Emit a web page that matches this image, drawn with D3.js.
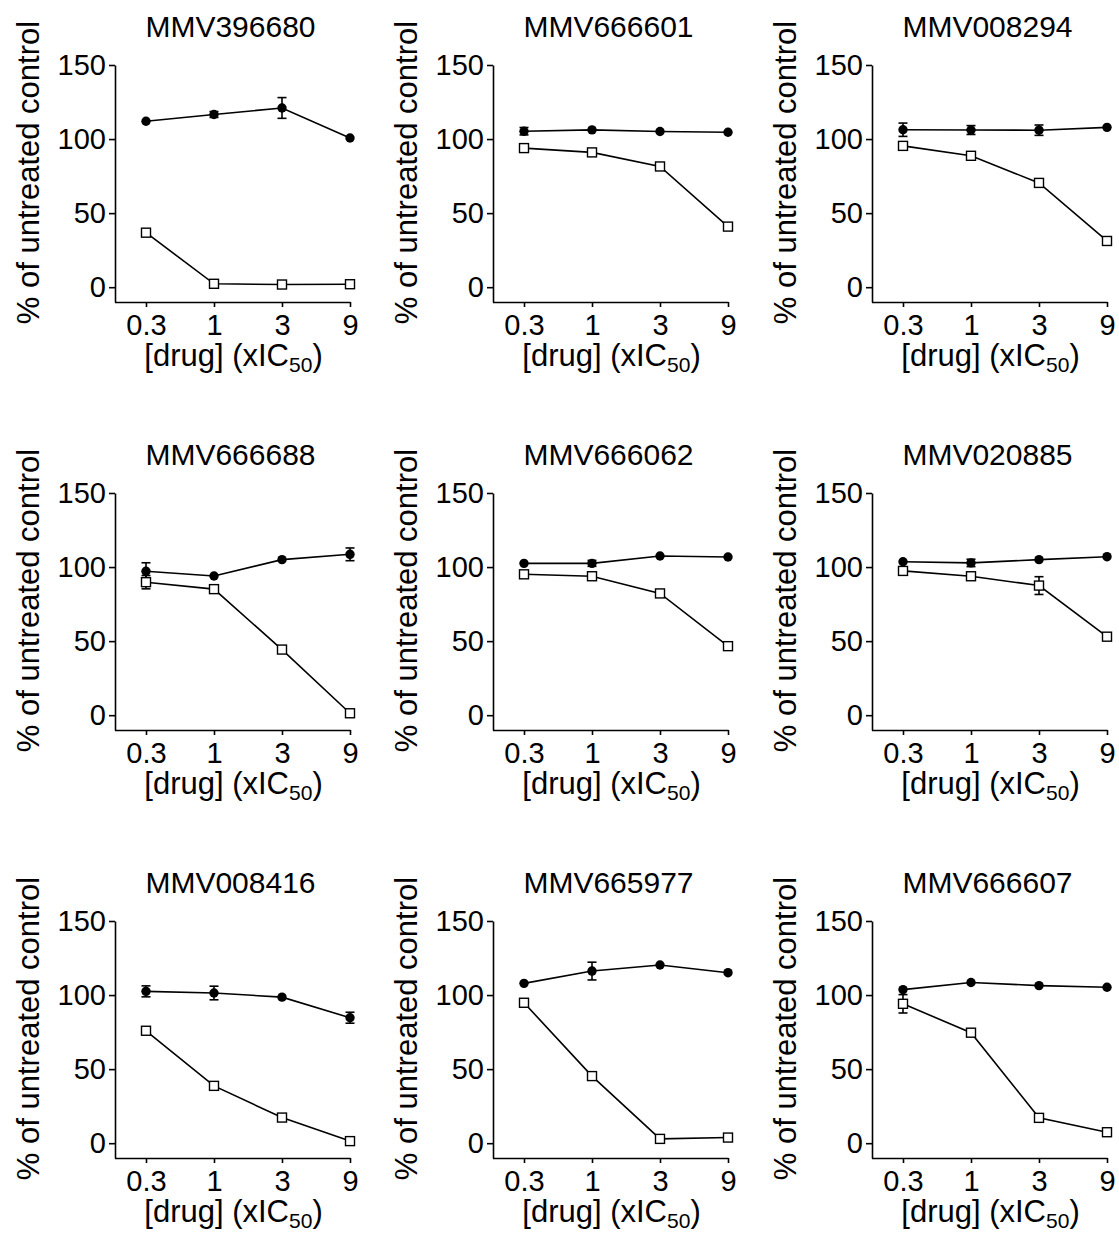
<!DOCTYPE html>
<html>
<head>
<meta charset="utf-8">
<script src="https://cdn.jsdelivr.net/npm/d3@7"></script>
<style>
  body { margin: 0; background: #fff; }
  svg { display: block; font-family: "Liberation Sans", Arial, sans-serif; }
</style>
</head>
<body>
<div id="chart"></div>
<script>
const WIDTH = 1119;
const HEIGHT = 1238;

// dose levels (x IC50), equally spaced on the axis
const doses = ["0.3", "1", "3", "9"];
const yTicks = [0, 50, 100, 150];

const compounds = [
  "MMV396680", "MMV666601", "MMV008294",
  "MMV666688", "MMV666062", "MMV020885",
  "MMV008416", "MMV665977", "MMV666607"
];

// filled circles: mean and error (0 = bar hidden behind the marker)
const filledMean = [
  [112, 116.6, 121, 100.7],
  [105.3, 106.2, 105.1, 104.6],
  [106.3, 106.1, 106, 107.9],
  [97.2, 94, 105, 108.6],
  [102.5, 102.5, 107.5, 106.8],
  [103.6, 102.8, 105, 107],
  [102.5, 101.4, 98.6, 84.7],
  [107.9, 116.2, 120.3, 115.1],
  [103.7, 108.5, 106.4, 105.3]
];
const filledErr = [
  [0, 2, 7, 0],
  [2.5, 0, 0, 0],
  [4.5, 3, 3.5, 0],
  [5.7, 0, 0, 4.3],
  [0, 2, 0, 0],
  [0, 2.5, 0, 0],
  [3.7, 4.6, 0, 3.7],
  [0, 6, 0, 0],
  [0, 0, 0, 0]
];

// open squares
const openMean = [
  [36.8, 2.3, 1.8, 2],
  [93.9, 91, 81.5, 40.9],
  [95.4, 88.7, 70.4, 31.2],
  [89.8, 85.1, 44.3, 1.3],
  [95.1, 93.8, 82.2, 46.6],
  [97.4, 93.8, 87.5, 53],
  [75.9, 38.7, 17.3, 1.4],
  [94.8, 45.3, 2.9, 3.8],
  [94.1, 74.6, 17.1, 7.4]
];
const openErr = [
  [0, 0, 0, 0],
  [0, 0, 0, 0],
  [0, 0, 0, 0],
  [4.5, 0, 0, 0],
  [0, 0, 0, 0],
  [0, 0, 6, 0],
  [0, 0, 0, 0],
  [0, 0, 0, 0],
  [6.2, 2.5, 0, 0]
];

// panel layout
const COL_X = [115, 493, 872];   // y-axis position of each column
const ROW_Y = [65, 493, 921];    // y of the 150 tick in each row
const PLOT_W = 235;
const FIRST_X = 31;
const PLOT_H = 237;              // from 150 down to the x axis line
const FONT = 29;

const svg = d3.select("#chart")
  .append("svg")
  .attr("width", WIDTH)
  .attr("height", HEIGHT);

const x = d3.scalePoint().domain(doses).range([FIRST_X, PLOT_W]);
const y = d3.scaleLinear().domain([-10, 150]).range([PLOT_H, 0]);

const line = d3.line()
  .x((d, i) => x(doses[i]))
  .y(d => y(d));

compounds.forEach((name, k) => {
  const g = svg.append("g")
    .attr("transform", `translate(${COL_X[k % 3]}, ${ROW_Y[Math.floor(k / 3)]})`);

  // title
  g.append("text")
    .attr("x", PLOT_W / 2 - 2)
    .attr("y", -28)
    .attr("text-anchor", "middle")
    .attr("font-size", FONT + 1)
    .text(name);

  // y axis
  const ya = g.append("g")
    .call(d3.axisLeft(y).tickValues(yTicks).tickSize(6).tickSizeOuter(0).tickPadding(3));
  ya.attr("font-size", FONT).attr("font-family", null);
  ya.selectAll("path, line").attr("stroke", "#000").attr("stroke-width", 1.6);

  // x axis
  const xa = g.append("g")
    .attr("transform", `translate(0, ${PLOT_H})`)
    .call(d3.axisBottom(x).tickSize(5).tickSizeOuter(0).tickPadding(7));
  xa.attr("font-size", FONT).attr("font-family", null);
  xa.select(".domain").attr("d", `M0,0.5H${PLOT_W + 0.5}`);
  xa.selectAll("path, line").attr("stroke", "#000").attr("stroke-width", 1.6);

  // y label
  g.append("text")
    .attr("transform", `translate(-76, ${PLOT_H / 2 - 11}) rotate(-90)`)
    .attr("text-anchor", "middle")
    .attr("font-size", FONT + 2)
    .text("% of untreated control");

  // x label
  const xl = g.append("text")
    .attr("x", PLOT_W / 2 + 1)
    .attr("y", PLOT_H + 64)
    .attr("text-anchor", "middle")
    .attr("font-size", FONT + 2);
  xl.append("tspan").text("[drug] (xIC");
  xl.append("tspan").attr("font-size", 21).attr("dy", 6).text("50");
  xl.append("tspan").attr("dy", -6).text(")");

  // series: filled circles first, open squares on top
  const series = [
    { mean: filledMean[k], err: filledErr[k], shape: "circle" },
    { mean: openMean[k], err: openErr[k], shape: "square" }
  ];

  series.forEach(s => {
    const sg = g.append("g");
    sg.append("path")
      .datum(s.mean)
      .attr("d", line)
      .attr("fill", "none")
      .attr("stroke", "#000")
      .attr("stroke-width", 1.6);

    // error bars
    const eb = sg.selectAll(".err")
      .data(s.mean.map((m, i) => ({ m, e: s.err[i], d: doses[i] })).filter(d => d.e > 0))
      .enter().append("g");
    eb.append("line")
      .attr("x1", d => x(d.d)).attr("x2", d => x(d.d))
      .attr("y1", d => y(d.m - d.e)).attr("y2", d => y(d.m + d.e))
      .attr("stroke", "#000").attr("stroke-width", 1.6);
    [-1, 1].forEach(sign => {
      eb.append("line")
        .attr("x1", d => x(d.d) - 4.5).attr("x2", d => x(d.d) + 4.5)
        .attr("y1", d => y(d.m + sign * d.e)).attr("y2", d => y(d.m + sign * d.e))
        .attr("stroke", "#000").attr("stroke-width", 1.6);
    });

    if (s.shape === "circle") {
      sg.selectAll("circle")
        .data(s.mean)
        .enter().append("circle")
        .attr("cx", (d, i) => x(doses[i]))
        .attr("cy", d => y(d))
        .attr("r", 4.7)
        .attr("fill", "#000");
    } else {
      sg.selectAll("rect")
        .data(s.mean)
        .enter().append("rect")
        .attr("x", (d, i) => x(doses[i]) - 4.5)
        .attr("y", d => y(d) - 4.5)
        .attr("width", 9)
        .attr("height", 9)
        .attr("fill", "#fff")
        .attr("stroke", "#000")
        .attr("stroke-width", 1.4);
    }
  });
});
</script>
</body>
</html>
